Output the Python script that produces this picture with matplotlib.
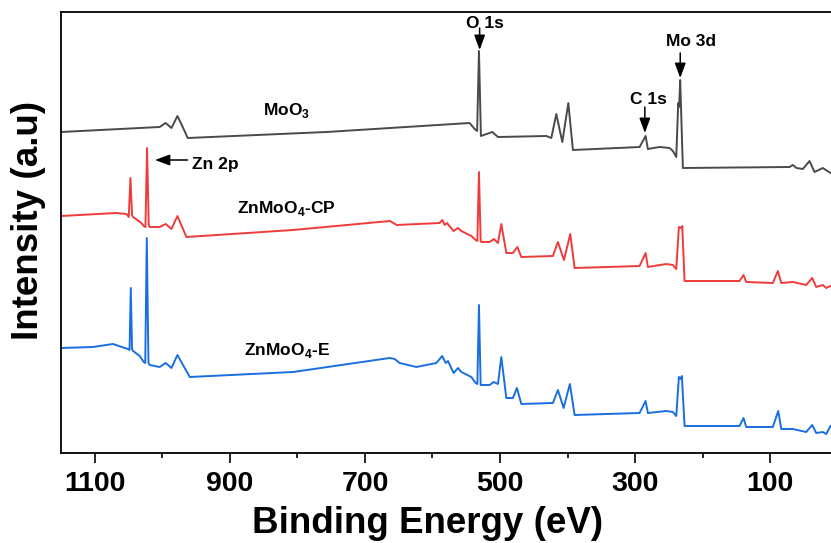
import matplotlib
matplotlib.use("Agg")
import matplotlib.pyplot as plt

plt.rcParams["font.family"] = ["Liberation Sans", "DejaVu Sans"]
plt.rcParams["font.weight"] = "bold"
plt.rcParams["mathtext.fontset"] = "custom"
plt.rcParams["mathtext.rm"] = "Liberation Sans:bold"
plt.rcParams["mathtext.bf"] = "Liberation Sans:bold"

# XPS survey spectra: binding energy (eV) and offset intensity (a.u.)
moo3_energy = [1150, 1092, 1004, 995, 986.5, 977.6, 969.8, 962.4, 757, 545,
               537.6, 533.9, 531.2, 528.3, 511.4, 503.1, 431.5, 424.1, 416.7, 407.8,
               398.9, 392.1, 293.4, 284.5, 281.1, 263.8, 249, 244.1, 239.1, 236.2,
               234.9, 233.3, 229.3, 71.4, 66.5, 61, 51.7, 41.8, 34.4, 22.1,
               10.7]
moo3_counts = [321, 323, 326, 330, 325, 337, 326, 315, 321, 330,
               324, 322, 402, 317, 321, 316, 317, 315, 339, 311,
               350, 303, 306, 317, 304, 306, 305, 302, 296, 350,
               346, 373, 285, 286, 288, 285, 284, 292, 281, 285,
               280]

cp_energy = [1150, 1068, 1053, 1049.7, 1047.2, 1044.8, 1043.3, 1031, 1027.5, 1025,
             1022.6, 1020.1, 1018.6, 1004, 995, 986.5, 977.6, 964.3, 806.5, 663,
             653, 589.4, 585.4, 582, 578.6, 568.7, 562.3, 557.3, 542.5, 536.1,
             533.6, 531.2, 528.7, 527.7, 515.4, 509, 503.1, 498.1, 490.7, 480.9,
             474.4, 468.5, 421.7, 414.3, 405.4, 396, 389.6, 293.4, 284.5, 281.1,
             253.9, 244.1, 239.1, 235.2, 232.7, 230.2, 226.8, 145.4, 139.5, 135.5,
             96.1, 88.7, 83.6, 66.5, 46.7, 37.8, 31.9, 22.1, 17.1, 10.7]
cp_counts = [237, 240, 239, 236, 275, 238, 236, 230, 227, 226,
             305, 228, 226, 226, 229, 224, 237, 216, 223, 232,
             228, 230, 233, 228, 230, 222, 225, 222, 217, 213,
             212, 281, 212, 211, 211, 214, 210, 229, 200, 200,
             206, 196, 197, 211, 193, 219, 185, 187, 200, 186,
             189, 188, 184, 226, 225, 227, 172, 172, 178, 171,
             170, 182, 170, 171, 168, 175, 166, 168, 165, 167]

e_energy = [1150, 1102.5, 1073, 1055.6, 1050.7, 1048.5, 1046.7, 1044.8, 1043.3, 1033.4,
            1027.5, 1025.3, 1023, 1020.5, 1018.6, 1004, 995, 986.5, 977.6, 959.4,
            806.5, 663.4, 656, 648.6, 624, 594.3, 585.7, 580.5, 577.1, 568.7,
            562.3, 557.3, 542.5, 536.1, 533.6, 531.2, 528.7, 527.7, 515.4, 509.5,
            503.1, 498.1, 490.7, 480.9, 475, 468.5, 421.7, 414.3, 405.9, 396.6,
            389.6, 293.4, 284.5, 281.1, 253.9, 244.1, 239.1, 235.2, 232.7, 230.8,
            226.8, 145.4, 139.5, 135.5, 96.1, 88.1, 83.6, 66.5, 46.7, 37.8,
            31.9, 22.1, 17.1, 10.7]
e_counts = [105, 106, 109, 105, 104, 103, 165, 104, 102, 97,
            91, 90, 215, 90, 88, 86, 90, 85, 98, 76,
            81, 95, 94, 90, 86, 90, 97, 90, 92, 80,
            85, 81, 76, 70, 69, 148, 68, 68, 68, 71,
            69, 96, 55, 55, 65, 49, 50, 63, 45, 69,
            38, 40, 52, 40, 42, 41, 37, 76, 74, 77,
            27, 27, 35, 26, 26, 42, 24, 24, 21, 28,
            20, 21, 19, 27]

series_names = ["MoO$_\\mathbf{3}$", "ZnMoO$_\\mathbf{4}$-CP", "ZnMoO$_\\mathbf{4}$-E"]
series_colors = ["#4a4a4a", "#ef3b3b", "#1a6fdf"]
major_ticks = [1100, 900, 700, 500, 300, 100]
minor_ticks = [1000, 800, 600, 400, 200]

W, H = 831, 543
fig = plt.figure(figsize=(W / 100, H / 100), dpi=100)
ax = fig.add_axes([61 / W, (H - 453) / H, 1 - 61 / W, (453 - 12) / H])

for (en, ct), name, col in zip([(moo3_energy, moo3_counts), (cp_energy, cp_counts),
                                (e_energy, e_counts)], series_names, series_colors):
    ax.plot(en, ct, color=col, lw=1.4, solid_joinstyle="round")

ax.set_xlim(1150, 10)
ax.set_ylim(0, 441)

# curve labels
label_kw = dict(fontsize=12.5, fontweight="bold", ha="center", va="center")
ax.text(816, 343, series_names[0], **label_kw)
ax.text(816, 245, series_names[1], **label_kw)
ax.text(815, 103, series_names[2], **label_kw)

# peak assignments
arrow = dict(arrowstyle="-|>,head_length=0.6,head_width=0.22", color="black",
             lw=1.1, mutation_scale=15, shrinkA=0, shrinkB=0)
ann_kw = dict(fontsize=12.5, fontweight="bold", ha="center", va="center")
ax.annotate("", xy=(1011, 293), xytext=(962.5, 293), arrowprops=arrow)
ax.text(956, 289, "Zn 2p", fontsize=12.5, fontweight="bold", ha="left", va="center")
ax.annotate("", xy=(530.2, 403), xytext=(530.2, 425), arrowprops=arrow)
ax.text(522, 430, "O 1s", **ann_kw)
ax.annotate("", xy=(285.6, 320), xytext=(285.6, 346), arrowprops=arrow)
ax.text(281, 354, "C 1s", **ann_kw)
ax.annotate("", xy=(233.2, 375), xytext=(233.2, 400), arrowprops=arrow)
ax.text(218, 411, "Mo 3d", **ann_kw)

ax.set_xticks(major_ticks)
ax.set_xticks(minor_ticks, minor=True)
ax.set_xticklabels([str(t) for t in major_ticks])
ax.set_yticks([])
ax.tick_params(axis="x", which="major", direction="out", length=7, width=1.2,
               pad=6, labelsize=20.5)
ax.tick_params(axis="x", which="minor", direction="out", length=3.5, width=1.2)
for lab in ax.get_xticklabels():
    lab.set_fontweight("bold")

for side in ["left", "bottom", "top"]:
    ax.spines[side].set_linewidth(1.3)
ax.spines["right"].set_visible(False)

fig.text(427.5 / W, (H - 533) / H, "Binding Energy (eV)", fontsize=26.5,
         fontweight="bold", ha="center", va="baseline")
fig.text(38 / W, (H - 220) / H, "Intensity (a.u)", fontsize=26.5, fontweight="bold",
         rotation=90, rotation_mode="anchor", ha="center", va="baseline")

fig.savefig("out.png", dpi=100)
